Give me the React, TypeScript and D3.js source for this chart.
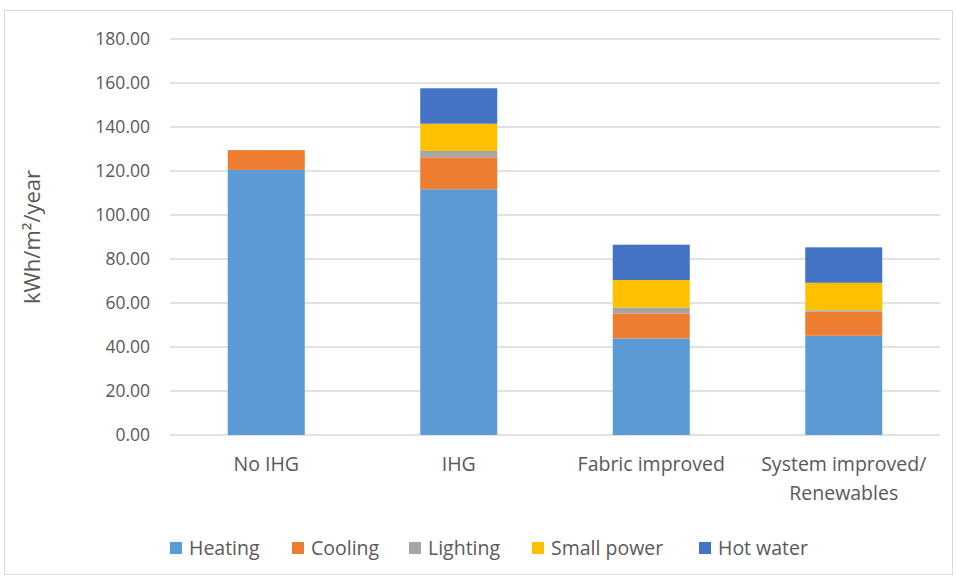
import { useEffect, useRef } from "react";
import * as d3 from "d3";

const W = 956;
const H = 578;

const categories = ["No IHG", "IHG", "Fabric improved", "System improved/\nRenewables"];
const seriesNames = ["Heating", "Cooling", "Lighting", "Small power", "Hot water"];
const seriesColors = ["#5b9bd5", "#ed7d31", "#a5a5a5", "#ffc000", "#4472c4"];

const heating = [120.5, 111.7, 43.9, 45.1];
const cooling = [9.0, 14.5, 11.4, 10.9];
const lighting = [0, 2.9, 2.6, 0.7];
const smallPower = [0, 12.4, 12.55, 12.5];
const hotWater = [0, 16.1, 16.05, 16.1];

const yTicks = [0, 20, 40, 60, 80, 100, 120, 140, 160, 180];

const FONT = "'Open Sans', Lato, sans-serif";
const TEXT = "#595959";

export default function App() {
  const ref = useRef<SVGSVGElement>(null);

  useEffect(() => {
    if (!ref.current) return;
    const svg = d3.select(ref.current);
    svg.selectAll("*").remove();

    const m = { left: 170, right: 940, top: 39, bottom: 435 };

    const rows = categories.map((c, i) => ({
      cat: c,
      Heating: heating[i],
      Cooling: cooling[i],
      Lighting: lighting[i],
      "Small power": smallPower[i],
      "Hot water": hotWater[i],
    }));

    const x = d3.scaleBand<string>().domain(categories).range([m.left, m.right]).paddingInner(0.6).paddingOuter(0.3);
    const y = d3.scaleLinear().domain([0, 180]).range([m.bottom, m.top]);

    // chart frame
    svg.append("rect")
      .attr("x", 4.5).attr("y", 10.5)
      .attr("width", W - 8).attr("height", H - 14)
      .attr("fill", "#fff").attr("stroke", "#d9d9d9");

    // gridlines
    svg.append("g").selectAll("line").data(yTicks).join("line")
      .attr("x1", m.left).attr("x2", m.right)
      .attr("y1", (d) => y(d)).attr("y2", (d) => y(d))
      .attr("stroke", "#d9d9d9").attr("stroke-width", 1.3);

    svg.append("g").selectAll("text").data(yTicks).join("text")
      .attr("x", 150).attr("y", (d) => y(d))
      .attr("dy", "0.35em").attr("text-anchor", "end")
      .attr("font-family", FONT).attr("font-size", 17.5).attr("fill", TEXT)
      .text((d) => d.toFixed(2));

    // stacked bars
    const stack = d3.stack<any>().keys(seriesNames);
    const layers = stack(rows);
    svg.append("g").selectAll("g").data(layers).join("g")
      .attr("fill", (_, i) => seriesColors[i])
      .selectAll("rect").data((d) => d).join("rect")
      .attr("x", (d) => x(d.data.cat)!)
      .attr("width", x.bandwidth())
      .attr("y", (d) => y(d[1]))
      .attr("height", (d) => y(d[0]) - y(d[1]));

    // category labels
    const cl = svg.append("g").selectAll("text").data(categories).join("text")
      .attr("x", (d) => x(d)! + x.bandwidth() / 2)
      .attr("y", 471)
      .attr("text-anchor", "middle")
      .attr("font-family", FONT).attr("font-size", 19.5).attr("fill", TEXT);
    cl.selectAll("tspan").data((d) => d.split("\n")).join("tspan")
      .attr("x", function () { return (this.parentNode as SVGTextElement).getAttribute("x"); })
      .attr("dy", (_, i) => (i === 0 ? 0 : 29))
      .text((d) => d);

    // y-axis title
    svg.append("text")
      .attr("transform", `translate(40,${(m.top + m.bottom) / 2}) rotate(-90)`)
      .attr("text-anchor", "middle")
      .attr("font-family", FONT).attr("font-size", 22).attr("fill", TEXT)
      .text("kWh/m²/year");

    // legend
    const legendX = [170, 292, 409, 532, 699];
    const lg = svg.append("g").selectAll("g").data(seriesNames).join("g")
      .attr("transform", (_, i) => `translate(${legendX[i]},548)`);
    lg.append("rect").attr("x", 0).attr("y", -6).attr("width", 12).attr("height", 12)
      .attr("fill", (_, i) => seriesColors[i]);
    lg.append("text").attr("x", 19).attr("dy", "0.35em")
      .attr("font-family", FONT).attr("font-size", 19.5).attr("fill", TEXT)
      .text((d) => d);
  }, []);

  return (
    <svg ref={ref} width={W} height={H} style={{ position: "absolute", left: 0, top: 0 }} />
  );
}
